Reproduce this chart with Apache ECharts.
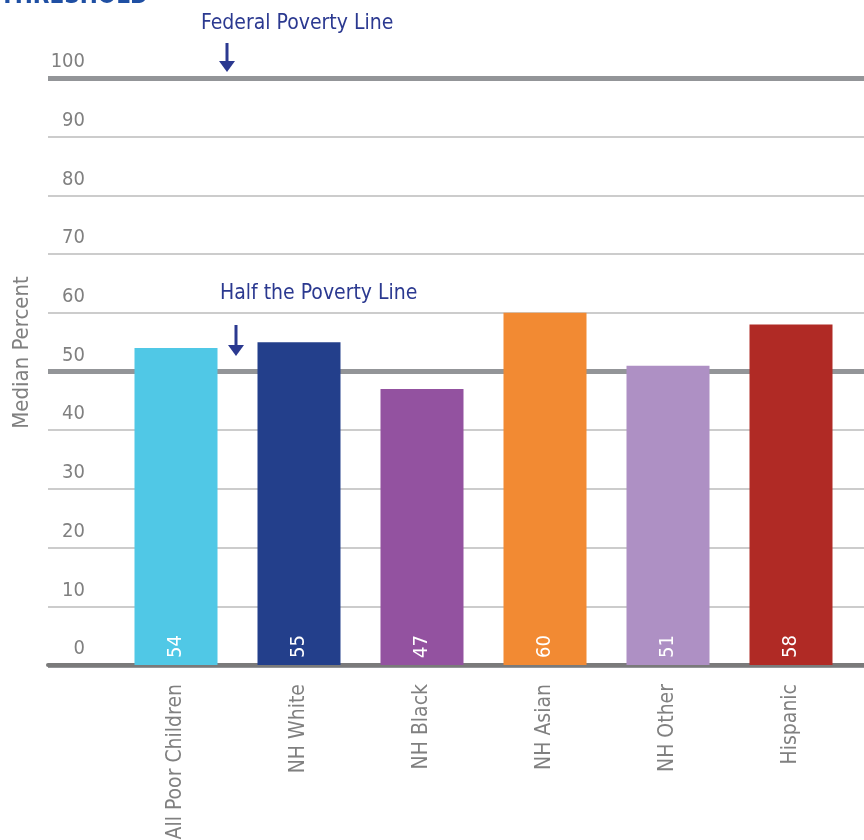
<!DOCTYPE html>
<html lang="en">
<head>
  <meta charset="UTF-8">
  <title>Median percent of poverty threshold</title>
  <script src="https://cdn.jsdelivr.net/npm/echarts@6/dist/echarts.min.js"></script>
  <style>
    html, body { margin: 0; padding: 0; background: #fff; }
    #chart { width: 864px; height: 840px; }
  </style>
</head>
<body>
<div id="chart"></div>
<script>
  // data
  var groups = ['All Poor Children', 'NH White', 'NH Black', 'NH Asian', 'NH Other', 'Hispanic'];
  var medians = [54, 55, 47, 60, 51, 58];
  var barColors = ['#50c8e6', '#233f8b', '#9352a0', '#f28a33', '#ae90c4', '#b02a25'];
  var povertyLines = [50, 100];   // half / full poverty line

  var FONT = '"Liberation Sans Narrow", "DejaVu Sans Condensed", sans-serif';
  var GRAY = '#808080';
  var NAVY = '#2b3990';

  var chart = echarts.init(document.getElementById('chart'));

  function arrow(x, y0, y1) {
    return {
      type: 'group',
      children: [
        { type: 'line', shape: { x1: x, y1: y0, x2: x, y2: y1 - 8 }, style: { stroke: NAVY, lineWidth: 3 } },
        { type: 'polygon', shape: { points: [[x - 8, y1 - 11], [x + 8, y1 - 11], [x, y1]] }, style: { fill: NAVY } }
      ]
    };
  }

  var option = {
    animation: false,
    grid: [
      { left: 48, right: 0, top: 78, bottom: 175, outerBoundsMode: 'none' },
      { left: 114.5, right: 11.5, top: 78, bottom: 175, outerBoundsMode: 'none' }
    ],
    xAxis: [
      {
        type: 'value', gridIndex: 0, min: 0, max: 1,
        axisLine: { show: true, lineStyle: { color: '#7a7a7a', width: 4 } },
        axisTick: { show: false }, axisLabel: { show: false }, splitLine: { show: false }
      },
      {
        type: 'category', gridIndex: 1, data: groups,
        axisLine: { show: false }, axisTick: { show: false },
        axisLabel: { rotate: 90, margin: 19, color: GRAY, fontSize: 21, fontFamily: FONT }
      }
    ],
    yAxis: [
      {
        type: 'value', gridIndex: 0, min: 0, max: 100, interval: 10,
        name: 'Median Percent', nameLocation: 'middle', nameGap: 15,
        nameTextStyle: { color: GRAY, fontSize: 22, fontFamily: FONT, padding: [0, 0, 0, 38] },
        axisLine: { show: false }, axisTick: { show: false },
        axisLabel: {
          inside: true, align: 'right', verticalAlign: 'bottom', margin: 37,
          padding: [0, 0, 6, 0], color: GRAY, fontSize: 20, fontFamily: FONT
        },
        splitLine: { lineStyle: { color: '#cccccc', width: 2 } }
      },
      {
        // thick reference lines at half and full poverty line
        type: 'value', gridIndex: 0, position: 'left', min: 0, max: 100,
        interval: povertyLines[0],
        axisLine: { show: false }, axisTick: { show: false }, axisLabel: { show: false },
        splitLine: { lineStyle: { color: '#939598', width: 5 } }
      },
      {
        type: 'value', gridIndex: 1, min: 0, max: 100, show: false
      }
    ],
    series: [
      {
        type: 'bar', xAxisIndex: 1, yAxisIndex: 2,
        barWidth: 83,
        data: medians.map(function (v, i) {
          return { value: v, itemStyle: { color: barColors[i] } };
        }),
        label: {
          show: true, position: 'insideBottom', distance: 7,
          rotate: 90, align: 'left', verticalAlign: 'middle',
          color: '#ffffff', fontSize: 20, fontFamily: FONT
        }
      }
    ],
    graphic: [
      {
        type: 'text', left: 0, top: -15,
        style: { text: 'THRESHOLD', fill: '#1f4fa3', font: 'bold 24px ' + FONT }
      },
      {
        type: 'text', left: 201, top: 13,
        style: { text: 'Federal Poverty Line', fill: NAVY, font: '21px ' + FONT }
      },
      arrow(227, 43, 72),
      {
        type: 'text', left: 220, top: 283,
        style: { text: 'Half the Poverty Line', fill: NAVY, font: '21px ' + FONT }
      },
      arrow(236, 325, 356)
    ]
  };

  chart.setOption(option);
</script>
</body>
</html>
